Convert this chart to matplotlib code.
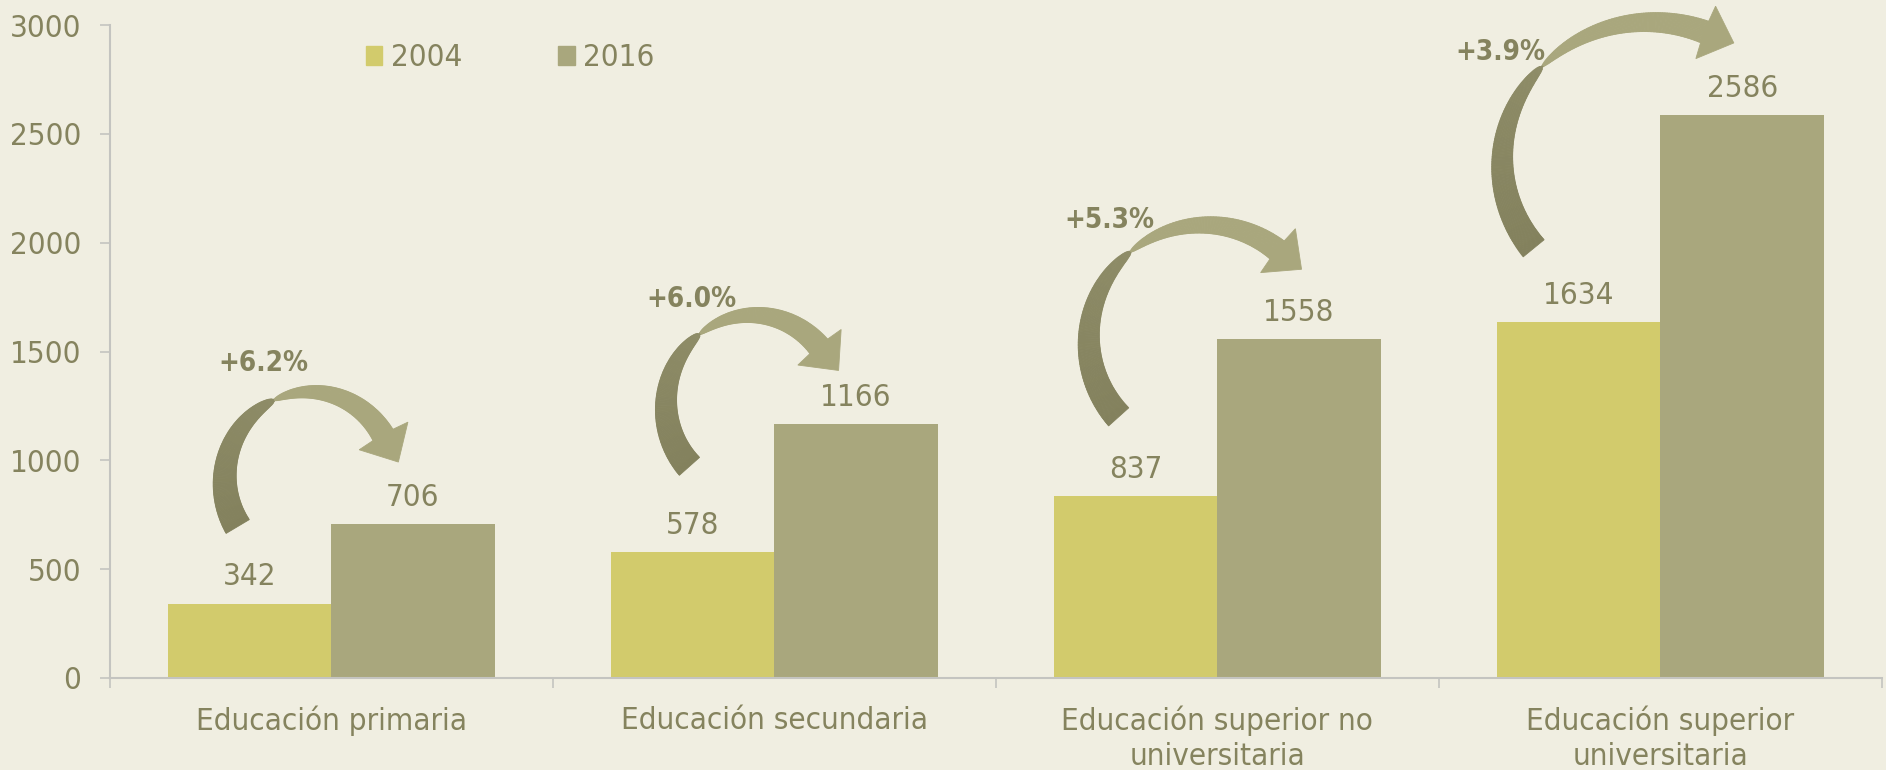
import numpy as np
import matplotlib
matplotlib.use("Agg")
import matplotlib.pyplot as plt
from matplotlib.patches import Patch, Polygon
from matplotlib.collections import PolyCollection
from matplotlib.colors import to_rgb

# datos
categorias = ["Educación primaria", "Educación secundaria",
              "Educación superior no\nuniversitaria", "Educación superior\nuniversitaria"]
anios = ["2004", "2016"]
valores_2004 = [342, 578, 837, 1634]
valores_2016 = [706, 1166, 1558, 2586]
crecimiento = ["+6.2%", "+6.0%", "+5.3%", "+3.9%"]

FONDO = "#F0EEE1"
C2004 = "#D2CB6C"
C2016 = "#A9A77D"
TEXTO = "#85835E"
GRIS = "#C4C4C0"
OSCURO = "#83815D"
OSCURO2 = "#8E8C67"
TAM = 22.5

plt.rcParams["font.family"] = "DejaVu Sans"
plt.rcParams["font.stretch"] = "condensed"

fig = plt.figure(figsize=(18.86, 7.7), dpi=100, facecolor=FONDO)
ax = fig.add_axes([0.0581, 0.1195, 0.9398, 0.848])
ax.set_facecolor(FONDO)

x = np.arange(len(categorias))
ancho = 0.369
ax.bar(x - ancho / 2, valores_2004, ancho, color=C2004, zorder=2)
ax.bar(x + ancho / 2, valores_2016, ancho, color=C2016, zorder=2)

ax.set_xlim(-0.5, 3.5)
ax.set_ylim(0, 3000)

# etiquetas de valores
for xi, v in zip(x - ancho / 2, valores_2004):
    ax.annotate(str(v), (xi, v), xytext=(0, 13), textcoords="offset points",
                ha="center", va="baseline", fontsize=TAM, color=TEXTO, zorder=4)
for xi, v in zip(x + ancho / 2, valores_2016):
    ax.annotate(str(v), (xi, v), xytext=(0, 13), textcoords="offset points",
                ha="center", va="baseline", fontsize=TAM, color=TEXTO, zorder=4)

# flechas curvas: centro x relativo, centro y, radio x, radio y, angulos cola / cruce / punta
flechas = [
    (-0.048, 910, 0.192, 404, 212, 115, 30),
    (-0.048, 1254, 0.196, 413, 223, 128, 40),
    (-0.028, 1553, 0.262, 528, 222, 130, 51),
    (-0.023, 2370, 0.334, 643, 218, 137, 68),
]
# posicion de los porcentajes (x relativo, y base)
pos_pct = [(-0.154, 1412), (-0.188, 1704), (-0.244, 2067), (-0.362, 2839)]


def mezcla(c1, c2, f):
    a, b = np.array(to_rgb(c1)), np.array(to_rgb(c2))
    return tuple(a + (b - a) * f)


def flecha(xc, cy, rx, ry, a_cola, a_cruce, a_punta):
    ang = np.linspace(a_cola, a_punta, 240)
    th = np.radians(ang)
    pts = ax.transData.transform(np.column_stack([xc + rx * np.cos(th), cy + ry * np.sin(th)]))
    d = np.gradient(pts, axis=0)
    d /= np.linalg.norm(d, axis=1)[:, None]
    n = np.column_stack([-d[:, 1], d[:, 0]])
    oscuro = ang > a_cruce
    f = np.where(oscuro, (ang - a_cruce) / (a_cola - a_cruce), (a_cruce - ang) / (a_cruce - a_punta))
    w = np.where(oscuro, 27 * f ** 0.4, 23 * f ** 0.5) / 2
    inv = ax.transData.inverted()
    e1 = inv.transform(pts + n * w[:, None])
    e2 = inv.transform(pts - n * w[:, None])
    polys, cols = [], []
    for i in range(len(ang) - 1):
        polys.append([e1[i], e1[i + 1], e2[i + 1], e2[i]])
        if oscuro[i]:
            cols.append(mezcla(OSCURO2, OSCURO, f[i]))
        else:
            cols.append(to_rgb(C2016))
    pc = PolyCollection(polys, facecolors=cols, edgecolors=cols, linewidths=0.6,
                        clip_on=False, zorder=3)
    ax.add_collection(pc, autolim=False)
    p, t, nn = pts[-1], d[-1], n[-1]
    cabeza = inv.transform(np.array([p + nn * 28, p + t * 30, p - nn * 28, p - t * 2]))
    ax.add_patch(Polygon(cabeza, closed=True, facecolor=C2016, edgecolor=C2016,
                         linewidth=0.6, clip_on=False, zorder=3))


for xi, g in zip(x, flechas):
    flecha(xi + g[0], *g[1:])

for xi, txt, (dx, yb) in zip(x, crecimiento, pos_pct):
    ax.text(xi + dx, yb, txt, ha="center", va="baseline", fontsize=20,
            fontweight="bold", color=TEXTO, zorder=4)

# ejes
ax.set_yticks(np.arange(0, 3001, 500))
ax.set_xticks(x)
ax.set_xticklabels(categorias, linespacing=1.25)
ax.set_xticks(np.arange(-0.5, 3.6, 1), minor=True)
ax.tick_params(axis="x", which="major", length=0, pad=20, labelsize=TAM, labelcolor=TEXTO)
ax.tick_params(axis="x", which="minor", length=7, width=1.2, color=GRIS)
ax.tick_params(axis="y", length=7.5, width=1.2, color=GRIS, pad=13,
               labelsize=TAM, labelcolor=TEXTO)
for s in ["top", "right"]:
    ax.spines[s].set_visible(False)
for s in ["left", "bottom"]:
    ax.spines[s].set_color(GRIS)
    ax.spines[s].set_linewidth(1.5)

ax.legend(handles=[Patch(color=C2004), Patch(color=C2016)], labels=anios,
          loc="center left", bbox_to_anchor=(366 / 1886, 1 - 58 / 770),
          bbox_transform=fig.transFigure, ncol=2, frameon=False, fontsize=TAM,
          handlelength=0.52, handleheight=0.52, handletextpad=0.27,
          columnspacing=3.08, borderpad=0, borderaxespad=0, labelcolor=TEXTO)

fig.savefig("out.png", dpi=100, facecolor=FONDO)
